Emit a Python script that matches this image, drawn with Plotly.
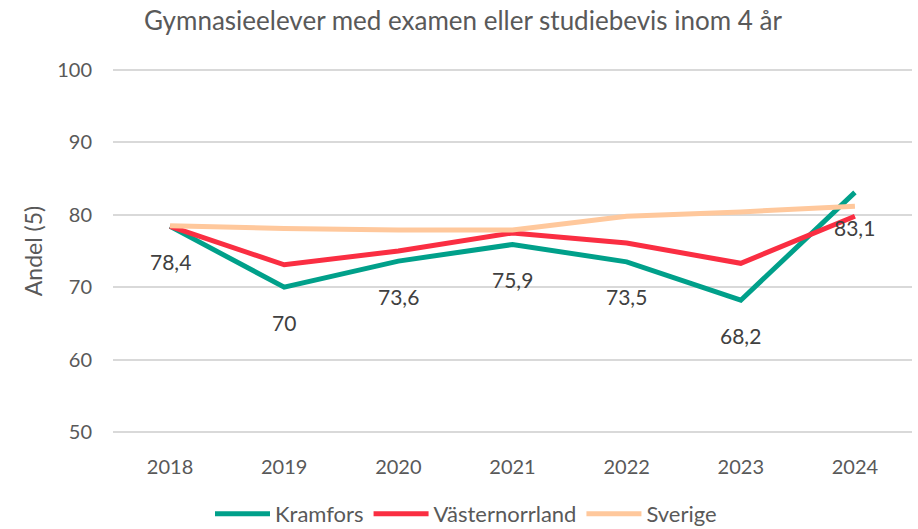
import plotly.graph_objects as go

years = ["2018", "2019", "2020", "2021", "2022", "2023", "2024"]
kramfors = [78.4, 70.0, 73.6, 75.9, 73.5, 68.2, 83.1]
vasternorrland = [78.4, 73.1, 75.0, 77.5, 76.1, 73.3, 79.8]
sverige = [78.5, 78.1, 77.9, 77.9, 79.8, 80.4, 81.2]
kramfors_labels = ["78,4", "70", "73,6", "75,9", "73,5", "68,2", "83,1"]

FONT = "Lato"
fig = go.Figure()
fig.add_trace(go.Scatter(x=years, y=kramfors, name="Kramfors", mode="lines",
                         line=dict(color="#00A08A", width=5)))
fig.add_trace(go.Scatter(x=years, y=vasternorrland, name="Västernorrland", mode="lines",
                         line=dict(color="#FA2E42", width=5)))
fig.add_trace(go.Scatter(x=years, y=sverige, name="Sverige", mode="lines",
                         line=dict(color="#FFC89C", width=5)))

for i, (y, t) in enumerate(zip(kramfors, kramfors_labels)):
    fig.add_annotation(x=i, y=y, text=t, showarrow=False, yshift=-35,
                       font=dict(family=FONT, size=21, color="#404040"))

fig.update_layout(
    width=918, height=529,
    margin=dict(l=113, r=6, t=69, b=96),
    paper_bgcolor="white", plot_bgcolor="white",
    title=dict(text="Gymnasieelever med examen eller studiebevis inom 4 år",
               x=463/918, xanchor="center", y=1-21/529, yanchor="middle",
               font=dict(family=FONT, size=26, color="#595959")),
    font=dict(family=FONT, color="#595959"),
    showlegend=True,
    legend=dict(orientation="h", xref="container", yref="container",
                x=466/918, xanchor="center", y=1-514/529, yanchor="middle",
                font=dict(family=FONT, size=22, color="#595959"),
                itemwidth=55, tracegroupgap=0),
)
fig.update_yaxes(range=[49.85, 100.15], dtick=10, tick0=50, showgrid=True, gridcolor="#D9D9D9",
                 gridwidth=1.5, zeroline=False, showline=False,
                 ticks="", ticklabelstandoff=20,
                 tickfont=dict(family=FONT, size=20, color="#595959"),
                 title=dict(text="Andel (5)", font=dict(family=FONT, size=23, color="#595959"),
                            standoff=8))
fig.update_xaxes(type="category", range=[-0.5, 6.5], showgrid=False, showline=False,
                 zeroline=False, ticks="", ticklabelstandoff=20,
                 tickfont=dict(family=FONT, size=20, color="#595959"))

fig.write_html("out.html", config={"displayModeBar": False},
               post_script="document.body.style.margin='0';")
